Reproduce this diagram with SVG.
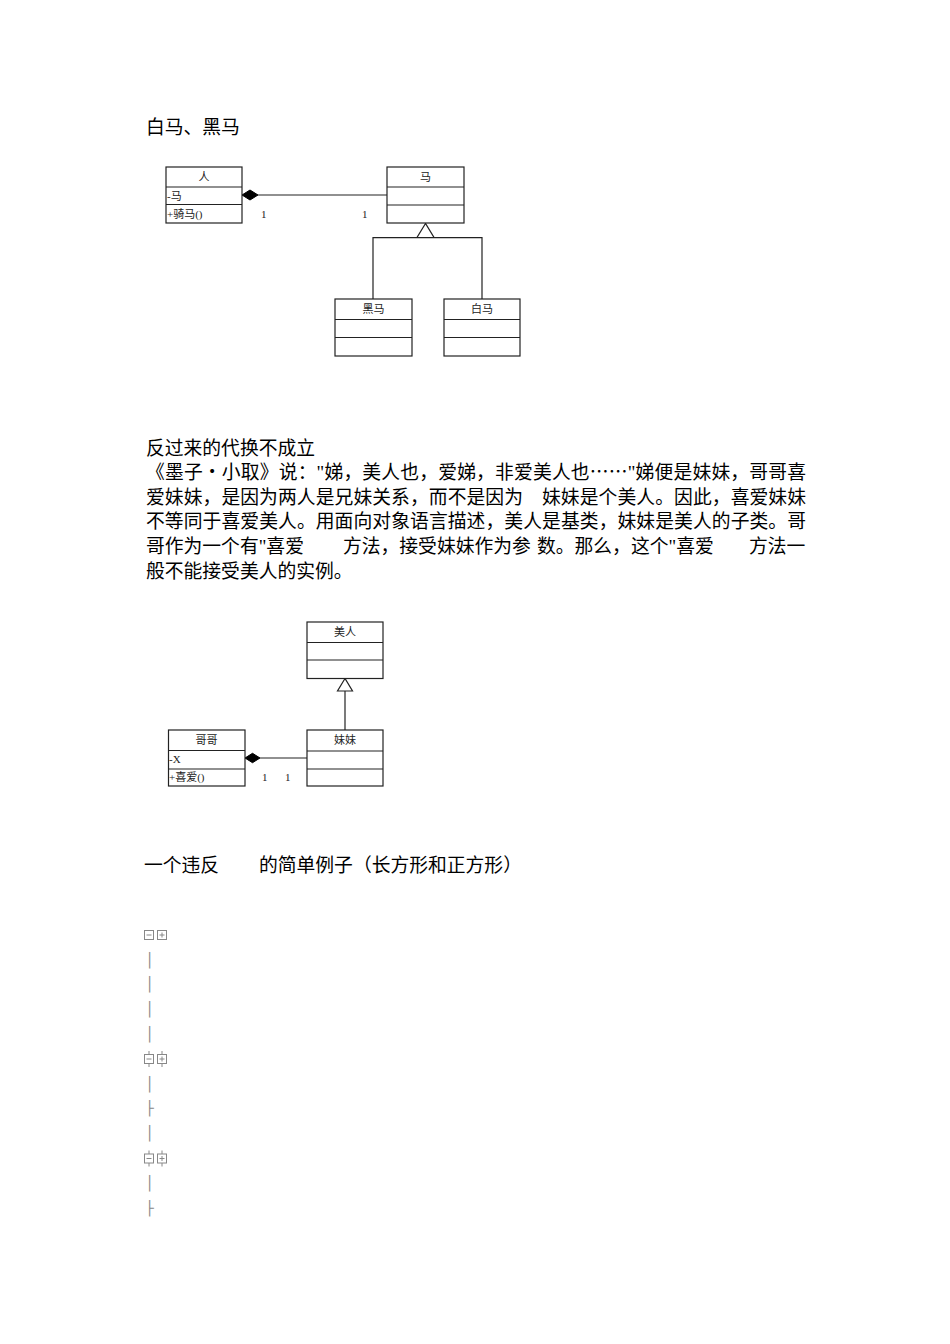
<svg xmlns="http://www.w3.org/2000/svg" width="950" height="1344" viewBox="0 0 950 1344">
<style>
.t{font-family:"Liberation Serif","Noto Sans CJK SC",serif;font-size:18.8px;fill:#000}
.cjk{font-family:"Noto Sans CJK SC",sans-serif}
.s{font-family:"Liberation Serif","Noto Sans CJK SC",serif;font-size:11px;fill:#222}
.c{text-anchor:middle}
.box{fill:#fff;stroke:#222;stroke-width:1.2}
.ln{stroke:#222;stroke-width:1.2;fill:none}
.g{font-family:"DejaVu Sans Mono",monospace;font-size:14px;fill:#888}
.tb{fill:#fff;stroke:#888;stroke-width:1}
.gl{stroke:#888;stroke-width:1;fill:none}
</style>
<defs>
<g id="minusbox"><rect class="tb" x="0.5" y="0.5" width="9" height="9"/><line class="gl" x1="2.5" y1="5" x2="7.5" y2="5"/></g>
<g id="plusbox"><rect class="tb" x="0.5" y="0.5" width="9" height="9"/><line class="gl" x1="2.5" y1="5" x2="7.5" y2="5"/><line class="gl" x1="5" y1="2.5" x2="5" y2="7.5"/></g>
</defs>
<rect width="950" height="1344" fill="#fff"/>

<text class="t" x="146" y="134">白马、黑马</text>

<g id="connectors1">
<line class="ln" x1="258" y1="195" x2="387" y2="195"/>
<polygon points="242,195 250,190 258,195 250,200" fill="#000" stroke="#000" stroke-width="1"/>
<polyline class="ln" points="373,299 373,237.7 482,237.7 482,299"/>
<polygon points="425.5,223.5 417,237.5 434,237.5" fill="#fff" stroke="#222" stroke-width="1.2"/>
<text class="s" x="261" y="218">1</text>
<text class="s" x="362" y="218">1</text>
</g>

<g id="ren">
<rect class="box" x="166" y="167" width="76" height="56"/>
<line class="ln" x1="166" y1="187" x2="242" y2="187"/>
<line class="ln" x1="166" y1="204.5" x2="242" y2="204.5"/>
<text class="s c" x="204" y="181">人</text>
<text class="s" x="167" y="200">-马</text>
<text class="s" x="167" y="218">+骑马()</text>
</g>

<g id="ma">
<rect class="box" x="387" y="167" width="77" height="56"/>
<line class="ln" x1="387" y1="187" x2="464" y2="187"/>
<line class="ln" x1="387" y1="205" x2="464" y2="205"/>
<text class="s c" x="425.5" y="181">马</text>
</g>

<g id="heima">
<rect class="box" x="335" y="299" width="77" height="57"/>
<line class="ln" x1="335" y1="319.5" x2="412" y2="319.5"/>
<line class="ln" x1="335" y1="337.5" x2="412" y2="337.5"/>
<text class="s c" x="373.5" y="313">黑马</text>
</g>

<g id="baima">
<rect class="box" x="444" y="299" width="76" height="57"/>
<line class="ln" x1="444" y1="319.5" x2="520" y2="319.5"/>
<line class="ln" x1="444" y1="337.5" x2="520" y2="337.5"/>
<text class="s c" x="482" y="313">白马</text>
</g>

<g id="para">
<text class="t" x="146" y="455">反过来的代换不成立</text>
<text class="t" x="146" y="479" textLength="660" lengthAdjust="spacing">《墨子・小取》说："娣，美人也，爱娣，非爱美人也<tspan class="cjk">……</tspan>"娣便是妹妹，哥哥喜</text>
<text class="t" x="146" y="504" textLength="377" lengthAdjust="spacing">爱妹妹，是因为两人是兄妹关系，而不是因为</text>
<text class="t" x="542" y="504" textLength="264" lengthAdjust="spacing">妹妹是个美人。因此，喜爱妹妹</text>
<text class="t" x="146" y="528" textLength="660" lengthAdjust="spacing">不等同于喜爱美人。用面向对象语言描述，美人是基类，妹妹是美人的子类。哥</text>
<text class="t" x="146" y="553">哥作为一个有"喜爱</text>
<text class="t" x="343" y="553">方法，接受妹妹作为参</text>
<text class="t" x="537" y="553">数。那么，这个"喜爱</text>
<text class="t" x="749" y="553">方法一</text>
<text class="t" x="146" y="578">般不能接受美人的实例。</text>
</g>

<g id="connectors2">
<line class="ln" x1="260" y1="758" x2="307" y2="758"/>
<polygon points="245,758 252.5,753.3 260,758 252.5,762.7" fill="#000" stroke="#000" stroke-width="1"/>
<line class="ln" x1="345" y1="691" x2="345" y2="730"/>
<polygon points="345,678.5 337.5,691 352.5,691" fill="#fff" stroke="#222" stroke-width="1.2"/>
<text class="s" x="262" y="781">1</text>
<text class="s" x="285" y="781">1</text>
</g>

<g id="meiren">
<rect class="box" x="307" y="622" width="76" height="56.5"/>
<line class="ln" x1="307" y1="642.5" x2="383" y2="642.5"/>
<line class="ln" x1="307" y1="660" x2="383" y2="660"/>
<text class="s c" x="345" y="636">美人</text>
</g>

<g id="meimei">
<rect class="box" x="307" y="730" width="76" height="56"/>
<line class="ln" x1="307" y1="751" x2="383" y2="751"/>
<line class="ln" x1="307" y1="769" x2="383" y2="769"/>
<text class="s c" x="345" y="744">妹妹</text>
</g>

<g id="gege">
<rect class="box" x="168.5" y="730" width="76.5" height="56"/>
<line class="ln" x1="168.5" y1="750.5" x2="245" y2="750.5"/>
<line class="ln" x1="168.5" y1="769" x2="245" y2="769"/>
<text class="s c" x="206.5" y="744">哥哥</text>
<text class="s" x="169" y="763">-X</text>
<text class="s" x="169" y="781">+喜爱()</text>
</g>

<g id="example">
<text class="t" x="144" y="872">一个违反</text>
<text class="t" x="259" y="872">的简单例子（长方形和正方形）</text>
</g>

<g id="tree">
<use href="#minusbox" x="144" y="930"/>
<use href="#plusbox" x="157" y="930"/>
<text class="g" x="145.3" y="964.5">│</text>
<text class="g" x="145.3" y="989.3">│</text>
<text class="g" x="145.3" y="1014.1">│</text>
<text class="g" x="145.3" y="1038.9">│</text>
<line class="gl" x1="149" y1="1051" x2="149" y2="1067"/>
<line class="gl" x1="162" y1="1051" x2="162" y2="1067"/>
<use href="#minusbox" x="144" y="1054"/>
<use href="#plusbox" x="157" y="1054"/>
<text class="g" x="145.3" y="1088.5">│</text>
<text class="g" x="145.3" y="1113.3">├</text>
<text class="g" x="145.3" y="1138.1">│</text>
<line class="gl" x1="149" y1="1150.5" x2="149" y2="1166.5"/>
<line class="gl" x1="162" y1="1150.5" x2="162" y2="1166.5"/>
<use href="#minusbox" x="144" y="1153.5"/>
<use href="#plusbox" x="157" y="1153.5"/>
<text class="g" x="145.3" y="1187.7">│</text>
<text class="g" x="145.3" y="1212.5">├</text>
</g>
</svg>
